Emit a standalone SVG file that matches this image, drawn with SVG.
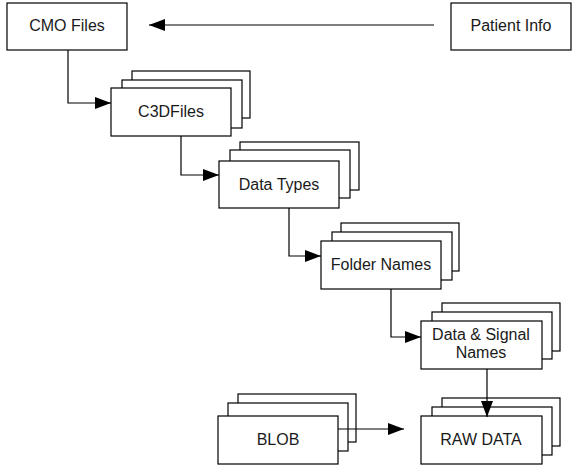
<svg xmlns="http://www.w3.org/2000/svg" width="577" height="476" viewBox="0 0 577 476">
<style>
rect{fill:#fff;stroke:#000;stroke-width:1.2}
text{font-family:"Liberation Sans",Arial,sans-serif;font-size:16px;fill:#1a1a1a;text-anchor:middle}
.c{fill:none;stroke:#000;stroke-width:1.2;marker-end:url(#ah)}
</style>
<defs>
<marker id="ah" markerUnits="userSpaceOnUse" markerWidth="17" markerHeight="13" refX="16" refY="6" orient="auto">
<path d="M0,0 L16,6 L0,12 z" fill="#000"/>
</marker>
</defs>
<rect x="0" y="0" width="577" height="476" style="stroke:none"/>
<g id="cmo-files">
<rect x="7" y="3" width="120" height="47"/>
<text x="67" y="31">CMO Files</text>
</g>
<g id="patient-info">
<rect x="451" y="3" width="120" height="47"/>
<text x="511" y="31">Patient Info</text>
</g>
<g id="c3dfiles">
<rect x="132" y="71" width="118" height="47"/>
<rect x="122" y="80" width="120" height="48"/>
<rect x="111" y="88" width="120" height="48"/>
<text x="171" y="117">C3DFiles</text>
</g>
<g id="data-types">
<rect x="240" y="142" width="119" height="48"/>
<rect x="230" y="150" width="120" height="48"/>
<rect x="219" y="161" width="120" height="47"/>
<text x="279" y="190">Data Types</text>
</g>
<g id="folder-names">
<rect x="341" y="223" width="118" height="48"/>
<rect x="332" y="232" width="120" height="48"/>
<rect x="321" y="241" width="120" height="48"/>
<text x="381" y="270">Folder Names</text>
</g>
<g id="data-signal-names">
<rect x="442" y="303" width="118" height="48"/>
<rect x="432" y="312" width="120" height="47"/>
<rect x="421" y="321" width="121" height="48"/>
<text x="481" y="340">Data &amp; Signal</text>
<text x="481" y="358">Names</text>
</g>
<g id="blob">
<rect x="238" y="394" width="118" height="48"/>
<rect x="228" y="403" width="120" height="48"/>
<rect x="218" y="416" width="120" height="48"/>
<text x="278" y="445">BLOB</text>
</g>
<g id="raw-data">
<rect x="442" y="398" width="118" height="48"/>
<rect x="432" y="407" width="120" height="48"/>
<rect x="421" y="416" width="121" height="48"/>
<text x="481" y="445">RAW DATA</text>
</g>
<g id="connectors">
<path class="c" d="M434,25 H149"/>
<path class="c" d="M68,50 V103 H111"/>
<path class="c" d="M181,136 V175 H219"/>
<path class="c" d="M289,208 V256 H321"/>
<path class="c" d="M391,289 V337 H421"/>
<path class="c" d="M487,369 V417"/>
<path class="c" d="M338,429 H404"/>
</g>
</svg>
